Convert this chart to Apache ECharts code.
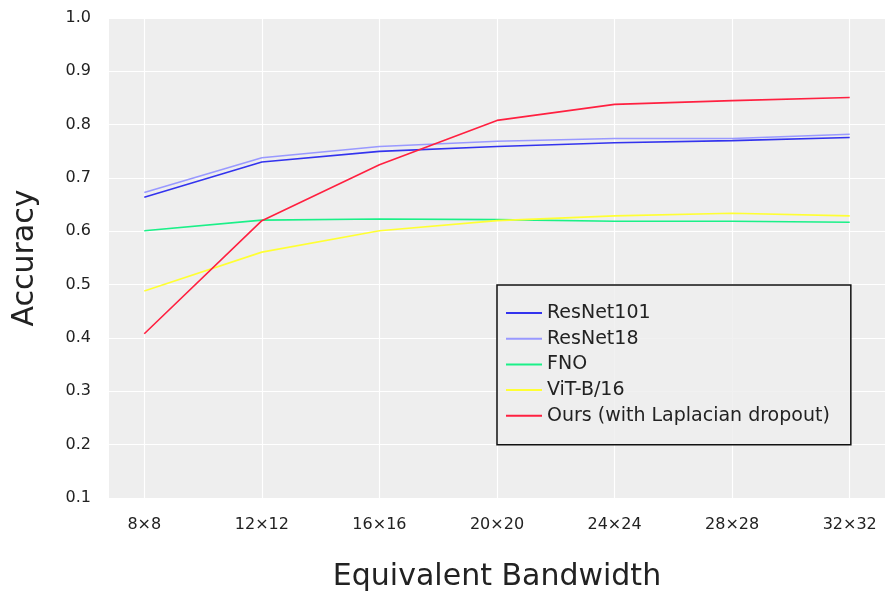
<!DOCTYPE html>
<html lang="en">
<head>
  <meta charset="UTF-8" />
  <title>Accuracy vs Equivalent Bandwidth</title>
  <style>
    html, body { margin: 0; padding: 0; background: #fff; }
    #chart { width: 885px; height: 597px; }
  </style>
  <script src="https://cdn.jsdelivr.net/npm/echarts@6/dist/echarts.min.js"></script>
</head>
<body>
  <div id="chart"></div>
  <script>
    // bandwidth categories (x positions 0..6)
    var bandwidths = ['8×8', '12×12', '16×16', '20×20', '24×24', '28×28', '32×32'];

    var resnet101 = [0.664, 0.730, 0.750, 0.759, 0.766, 0.770, 0.776];
    var resnet18  = [0.673, 0.738, 0.759, 0.769, 0.774, 0.774, 0.782];
    var fno       = [0.601, 0.621, 0.623, 0.622, 0.619, 0.619, 0.617];
    var vit       = [0.488, 0.561, 0.601, 0.620, 0.629, 0.634, 0.629];
    var ours      = [0.408, 0.620, 0.725, 0.808, 0.838, 0.845, 0.851];

    var yTicks = [0.1, 0.2, 0.3, 0.4, 0.5, 0.6, 0.7, 0.8, 0.9, 1.0];

    var FONT = '"DejaVu Sans", sans-serif';

    function pts(arr) {
      return arr.map(function (v, i) { return [i, v]; });
    }

    function lineSeries(name, arr, color) {
      return {
        name: name,
        type: 'line',
        data: pts(arr),
        symbol: 'none',
        z: 3,
        lineStyle: { color: color, width: 1.6 },
        itemStyle: { color: color }
      };
    }

    var chart = echarts.init(document.getElementById('chart'));

    var option = {
      animation: false,
      grid: {
        left: 109, top: 18, width: 778, height: 482,
        show: true, backgroundColor: '#eeeeee', borderWidth: 0
      },
      xAxis: {
        type: 'value',
        min: -0.3, max: 6.3,
        name: 'Equivalent Bandwidth',
        nameLocation: 'middle',
        nameGap: 64,
        nameTextStyle: { fontFamily: FONT, fontSize: 30, color: '#222' },
        axisLine: { show: false },
        axisTick: { show: false },
        splitLine: { show: false },
        axisLabel: {
          customValues: bandwidths.map(function (b, i) { return i; }),
          formatter: function (v) { return bandwidths[Math.round(v)]; },
          fontFamily: FONT, fontSize: 16, color: '#222', margin: 19
        }
      },
      yAxis: {
        type: 'value',
        min: yTicks[0], max: yTicks[yTicks.length - 1], interval: 0.1,
        name: 'Accuracy',
        nameLocation: 'middle',
        nameGap: 69,
        nameTextStyle: { fontFamily: FONT, fontSize: 30, color: '#222' },
        axisLine: { show: false },
        axisTick: { show: false },
        splitLine: { lineStyle: { color: '#ffffff', width: 1.2 } },
        axisLabel: {
          formatter: function (v) { return v.toFixed(1); },
          fontFamily: FONT, fontSize: 16, color: '#222', margin: 18
        }
      },
      legend: {
        orient: 'vertical',
        left: 497, top: 285,
        z: 10,
        padding: [18, 21, 19, 9],
        itemGap: 5.7,
        itemWidth: 36, itemHeight: 2,
        icon: 'rect',
        backgroundColor: 'rgba(238,238,238,0.8)',
        borderColor: '#111111',
        borderWidth: 1.5,
        borderRadius: 0,
        textStyle: { fontFamily: FONT, fontSize: 19, color: '#222', lineHeight: 20 },
        data: ['ResNet101', 'ResNet18', 'FNO', 'ViT-B/16', 'Ours (with Laplacian dropout)']
      },
      series: [
        {
          // vertical grid lines at each bandwidth position
          type: 'line',
          data: [],
          z: 1,
          silent: true,
          markLine: {
            z: 1,
            silent: true,
            symbol: ['none', 'none'],
            label: { show: false },
            lineStyle: { color: '#ffffff', width: 1.2, type: 'solid' },
            data: bandwidths.map(function (b, i) { return { xAxis: i }; })
          }
        },
        lineSeries('ResNet101', resnet101, '#3333ee'),
        lineSeries('ResNet18', resnet18, '#9999ff'),
        lineSeries('FNO', fno, '#1af088'),
        lineSeries('ViT-B/16', vit, '#ffff33'),
        lineSeries('Ours (with Laplacian dropout)', ours, '#ff2040')
      ]
    };

    chart.setOption(option);
  </script>
</body>
</html>
